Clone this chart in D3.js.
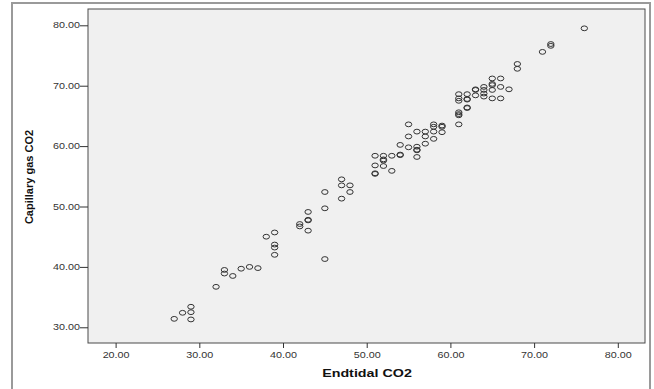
<!DOCTYPE html>
<html>
<head>
<meta charset="utf-8">
<script src="https://cdn.jsdelivr.net/npm/d3@7"></script>
<style>
  body { margin: 0; background: #fff; }
  svg { display: block; font-family: Arial, "Liberation Sans", sans-serif; }
</style>
</head>
<body>
<div id="chart"></div>
<script>
// Endtidal CO2 (x) vs Capillary gas CO2 (y), one entry per patient
const endtidal = [
  27, 28, 29, 29, 29, 32, 33, 33, 34, 35, 36, 37, 38, 39, 39, 39, 39,
  42, 42, 43, 43, 43, 43, 45, 45, 45, 47, 47, 47, 48, 48,
  51, 51, 51, 51, 52, 52, 52, 52, 53, 53, 54, 54, 54,
  55, 55, 55, 56, 56, 56, 56, 56, 57, 57, 57, 58, 58, 58, 58, 59, 59, 59,
  61, 61, 61, 61, 61, 61, 61, 62, 62, 62, 62, 62, 63, 63, 63,
  64, 64, 64, 64, 65, 65, 65, 65, 65, 66, 66, 66, 67, 68, 68, 71, 72, 72, 76
];
const capillary = [
  31.4, 32.4, 33.4, 32.5, 31.3, 36.7, 39.5, 38.9, 38.5, 39.7, 40.0, 39.8, 45.0, 45.7, 43.7, 43.2, 42.0,
  47.1, 46.7, 49.1, 47.8, 47.7, 46.0, 52.4, 49.7, 41.3, 54.5, 53.5, 51.3, 53.5, 52.4,
  58.4, 56.8, 55.4, 55.5, 58.4, 57.8, 57.6, 56.7, 58.4, 55.9, 60.2, 58.5, 58.6,
  63.6, 61.6, 59.8, 62.4, 59.9, 59.4, 59.3, 58.2, 62.4, 61.6, 60.4, 63.6, 63.2, 62.4, 61.2, 63.4, 63.2, 62.3,
  68.6, 67.9, 67.5, 65.6, 65.3, 65.1, 63.6, 68.6, 67.8, 67.7, 66.4, 66.3, 69.4, 69.3, 68.4,
  69.8, 69.3, 68.7, 68.2, 71.2, 70.3, 70.1, 69.3, 67.9, 71.2, 69.8, 67.9, 69.4, 73.6, 72.8, 75.6, 76.9, 76.6, 79.5
];
const xTicks = [20, 30, 40, 50, 60, 70, 80];
const yTicks = [30, 40, 50, 60, 70, 80];
const xLabel = 'Endtidal CO2';
const yLabel = 'Capillary gas CO2';

const width = 654, height = 389;
const plot = { left: 88, top: 9, right: 645, bottom: 343 };
const stretch = 1.3; // the original picture is wider than tall

const x = d3.scaleLinear().domain([16.7, 83.25]).range([plot.left, plot.right]);
const y = d3.scaleLinear().domain([27.4, 82.7]).range([plot.bottom, plot.top]);

const svg = d3.select('#chart').append('svg')
  .attr('width', width)
  .attr('height', height);

// outer frame
svg.append('rect')
  .attr('x', 12).attr('y', 3)
  .attr('width', 638).attr('height', 400)
  .attr('fill', 'none')
  .attr('stroke', '#9a9a9a')
  .attr('stroke-width', 2);

// plot area
svg.append('rect')
  .attr('x', plot.left).attr('y', plot.top)
  .attr('width', plot.right - plot.left)
  .attr('height', plot.bottom - plot.top)
  .attr('fill', '#f0f0f0')
  .attr('stroke', '#4a4a4a')
  .attr('stroke-width', 1);

const fmt = d3.format('.2f');

svg.append('g')
  .attr('transform', `translate(${plot.left},0)`)
  .call(d3.axisLeft(y).tickValues(yTicks).tickFormat(fmt).tickSize(8).tickPadding(0))
  .call(g => g.select('.domain').remove())
  .call(g => g.selectAll('.tick line').attr('stroke', '#333'))
  .call(g => g.selectAll('.tick text')
    .attr('font-size', 8.3)
    .attr('fill', '#333')
    .attr('x', -8 / stretch)
    .attr('transform', `scale(${stretch},1)`));

svg.append('g')
  .attr('transform', `translate(0,${plot.bottom})`)
  .call(d3.axisBottom(x).tickValues(xTicks).tickFormat(fmt).tickSize(5).tickPadding(4))
  .call(g => g.select('.domain').remove())
  .call(g => g.selectAll('.tick line').attr('stroke', '#333'))
  .call(g => g.selectAll('.tick text')
    .attr('font-size', 8.3)
    .attr('fill', '#333')
    .attr('transform', `scale(${stretch},1)`));

// axis titles
svg.append('text')
  .attr('transform', `translate(367,377) scale(${stretch},1)`)
  .attr('text-anchor', 'middle')
  .attr('font-size', 11)
  .attr('font-weight', 'bold')
  .attr('fill', '#111')
  .text(xLabel);

svg.append('text')
  .attr('transform', `translate(33,177) rotate(-90)`)
  .attr('text-anchor', 'middle')
  .attr('font-size', 11)
  .attr('font-weight', 'bold')
  .attr('fill', '#111')
  .text(yLabel);

// points
svg.append('g')
  .attr('fill', 'none')
  .attr('stroke', '#333')
  .attr('stroke-width', 1)
  .selectAll('ellipse')
  .data(d3.range(endtidal.length))
  .join('ellipse')
  .attr('cx', i => x(endtidal[i]))
  .attr('cy', i => y(capillary[i]))
  .attr('rx', 3.2)
  .attr('ry', 2.4);
</script>
</body>
</html>
